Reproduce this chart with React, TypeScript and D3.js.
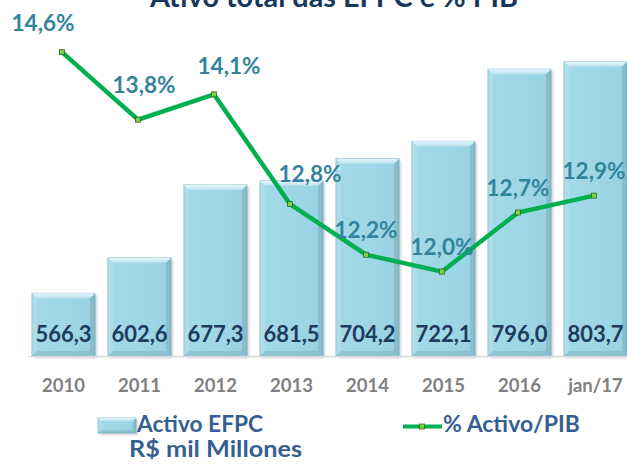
import React from 'react';
import * as d3 from 'd3';

const categories = ['2010', '2011', '2012', '2013', '2014', '2015', '2016', 'jan/17'];
const activoEFPC = [566.3, 602.6, 677.3, 681.5, 704.2, 722.1, 796.0, 803.7];
const pctPIB = [14.6, 13.8, 14.1, 12.8, 12.2, 12.0, 12.7, 12.9];
const barLabels = ['566,3', '602,6', '677,3', '681,5', '704,2', '722,1', '796,0', '803,7'];
const pctLabels = ['14,6%', '13,8%', '14,1%', '12,8%', '12,2%', '12,0%', '12,7%', '12,9%'];
const title = 'Ativo total das EFPC e % PIB';
const legendBar = ['Activo EFPC', 'R$ mil Millones'];
const legendLine = '% Activo/PIB';

// label placement offsets (style), relative to each point
const pctOffsets: [number, number][] = [
  [-19, -21], [6, -27], [15, -20], [20, -22], [0, -17], [0, -17], [0, -17], [0, -17],
];

const W = 627;
const H = 468;
const FONT = 'Lato, "Open Sans", sans-serif';

function Bevel({ x, y, w, h, b }: { x: number; y: number; w: number; h: number; b: number }) {
  return (
    <g>
      <rect x={x + 2} y={y + 2} width={w} height={h} fill="rgba(0,0,0,0.18)" filter="url(#blur)" />
      <rect x={x} y={y} width={w} height={h} fill="url(#barFill)" stroke="#7fb6c6" strokeWidth={0.8} />
      <polygon points={`${x},${y} ${x + w},${y} ${x + w - b},${y + b} ${x + b},${y + b}`} fill="url(#topBevel)" />
      <polygon points={`${x},${y} ${x + b},${y + b} ${x + b},${y + h - b} ${x},${y + h}`} fill="rgba(255,255,255,0.12)" />
      <polygon points={`${x + w},${y} ${x + w - b},${y + b} ${x + w - b},${y + h - b} ${x + w},${y + h}`} fill="rgba(0,40,60,0.12)" />
      <polygon points={`${x},${y + h} ${x + b},${y + h - b} ${x + w - b},${y + h - b} ${x + w},${y + h}`} fill="rgba(0,40,60,0.10)" />
    </g>
  );
}

export default function App() {
  const baseY = 356;
  const topY = 18.4;
  const x = d3.scaleBand<string>().domain(categories).range([25.5, 633.5]).paddingInner(0.17).paddingOuter(0.085);
  const yBar = d3.scaleLinear().domain([502, 848]).range([baseY, topY]);
  const yPct = d3.scaleLinear().domain([11, 15]).range([baseY, topY]);
  const bw = x.bandwidth();

  const line = d3
    .line<number>()
    .x((_, i) => (x(categories[i]) as number) + bw / 2 - 1.5)
    .y((d) => yPct(d));

  return (
    <svg width={W} height={H} style={{ position: 'absolute', left: 0, top: 0, background: '#fff' }} fontFamily={FONT}>
      <defs>
        <linearGradient id="barFill" x1="0" y1="0" x2="1" y2="0">
          <stop offset="0" stopColor="#a3d9e8" />
          <stop offset="0.5" stopColor="#9fd7e7" />
          <stop offset="1" stopColor="#98d2e2" />
        </linearGradient>
        <linearGradient id="topBevel" x1="0" y1="0" x2="0" y2="1">
          <stop offset="0" stopColor="#e6f6fb" />
          <stop offset="1" stopColor="#b9e4ef" />
        </linearGradient>
        <filter id="blur" x="-20%" y="-20%" width="140%" height="140%">
          <feGaussianBlur stdDeviation="1.2" />
        </filter>
      </defs>

      <text x={334} y={7} textAnchor="middle" fontSize={28} fontWeight="bold" fill="#17375e" textLength={368} lengthAdjust="spacingAndGlyphs">
        {title}
      </text>

      {activoEFPC.map((v, i) => {
        const bx = x(categories[i]) as number;
        const by = yBar(v);
        return <Bevel key={i} x={bx} y={by} w={bw} h={baseY - by} b={5} />;
      })}

      <line x1={28} x2={W} y1={baseY + 0.5} y2={baseY + 0.5} stroke="#d9d9d9" strokeWidth={1.5} />

      {barLabels.map((t, i) => (
        <text
          key={i}
          x={(x(categories[i]) as number) + bw / 2}
          y={342}
          textAnchor="middle"
          fontSize={22}
          fontWeight="bold"
          fill="#1f3a5f"
        >
          {t}
        </text>
      ))}

      {categories.map((c, i) => (
        <text key={c} x={(x(c) as number) + bw / 2} y={392} textAnchor="middle" fontSize={18.5} fontWeight="bold" fill="#808080">
          {c}
        </text>
      ))}

      <path d={line(pctPIB) || ''} fill="none" stroke="#00b050" strokeWidth={4.5} strokeLinejoin="miter" />
      {pctPIB.map((v, i) => {
        const px = (x(categories[i]) as number) + bw / 2 - 1.5;
        const py = yPct(v);
        return <rect key={i} x={px - 2.5} y={py - 2.5} width={5} height={5} fill="#7fd04a" stroke="#2d6b1f" strokeWidth={0.8} />;
      })}

      {pctLabels.map((t, i) => {
        const px = (x(categories[i]) as number) + bw / 2 - 1.5;
        const py = yPct(pctPIB[i]);
        return (
          <text key={i} x={px + pctOffsets[i][0]} y={py + pctOffsets[i][1]} textAnchor="middle" fontSize={22.5} fontWeight="bold" fill="#31849b">
            {t}
          </text>
        );
      })}

      {/* legend */}
      <Bevel x={98} y={418} w={38} h={15} b={3} />
      <text x={137} y={432} fontSize={22} fontWeight="bold" fill="#365f91" textLength={126} lengthAdjust="spacingAndGlyphs">
        {legendBar[0]}
      </text>
      <text x={129} y={457} fontSize={22} fontWeight="bold" fill="#365f91" textLength={173} lengthAdjust="spacingAndGlyphs">
        {legendBar[1]}
      </text>
      <line x1={403} x2={442} y1={426.5} y2={426.5} stroke="#00b050" strokeWidth={4} />
      <rect x={419.5} y={424} width={5} height={5} fill="#7fd04a" stroke="#2d6b1f" strokeWidth={0.8} />
      <text x={443} y={432} fontSize={22} fontWeight="bold" fill="#365f91" textLength={137} lengthAdjust="spacingAndGlyphs">
        {legendLine}
      </text>
    </svg>
  );
}
